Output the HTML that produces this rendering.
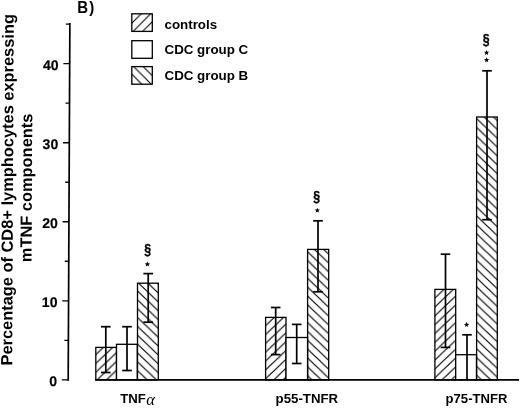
<!DOCTYPE html>
<html><head><meta charset="utf-8"><style>
html,body{margin:0;padding:0;background:#fff;}
svg{display:block;will-change:transform;}
text{font-family:"Liberation Sans",sans-serif;font-weight:bold;fill:#000;}
.tl{font-size:14px;stroke:#000;stroke-width:0.2px;}
.lg{font-size:13.35px;}
.xl{font-size:13.2px;}
.yl{font-size:16.2px;}
.bl{font-size:16.2px;}
.sec{font-size:14.5px;stroke:#000;stroke-width:0.35px;}
.al{font-family:"Liberation Serif",serif;font-style:italic;font-weight:normal;font-size:16.5px;}
</style></head><body>
<svg width="520" height="408" viewBox="0 0 520 408">
<defs>
<pattern id="p1" patternUnits="userSpaceOnUse" width="9.3158" height="8.8500" patternTransform="translate(95.7,354.7)"><path d="M-9.31578947368421,17.7 L18.63157894736842,-8.85 M-9.31578947368421,8.85 L9.31578947368421,-8.85 M0,17.7 L18.63157894736842,0" stroke="#000" stroke-width="1.1" fill="none"/></pattern>
<pattern id="p2" patternUnits="userSpaceOnUse" width="9.3158" height="8.8500" patternTransform="translate(137.5,291.0)"><path d="M-9.31578947368421,-8.85 L18.63157894736842,17.7 M0,-8.85 L18.63157894736842,8.85 M-9.31578947368421,0 L9.31578947368421,17.7" stroke="#000" stroke-width="1.1" fill="none"/></pattern>
<pattern id="p3" patternUnits="userSpaceOnUse" width="9.3158" height="8.8500" patternTransform="translate(265.5,370.0)"><path d="M-9.31578947368421,17.7 L18.63157894736842,-8.85 M-9.31578947368421,8.85 L9.31578947368421,-8.85 M0,17.7 L18.63157894736842,0" stroke="#000" stroke-width="1.1" fill="none"/></pattern>
<pattern id="p4" patternUnits="userSpaceOnUse" width="9.3158" height="8.8500" patternTransform="translate(307.6,251.8)"><path d="M-9.31578947368421,-8.85 L18.63157894736842,17.7 M0,-8.85 L18.63157894736842,8.85 M-9.31578947368421,0 L9.31578947368421,17.7" stroke="#000" stroke-width="1.1" fill="none"/></pattern>
<pattern id="p5" patternUnits="userSpaceOnUse" width="9.3158" height="8.8500" patternTransform="translate(434.9,298.1)"><path d="M-9.31578947368421,17.7 L18.63157894736842,-8.85 M-9.31578947368421,8.85 L9.31578947368421,-8.85 M0,17.7 L18.63157894736842,0" stroke="#000" stroke-width="1.1" fill="none"/></pattern>
<pattern id="p6" patternUnits="userSpaceOnUse" width="9.3158" height="8.8500" patternTransform="translate(476.8,118.8)"><path d="M-9.31578947368421,-8.85 L18.63157894736842,17.7 M0,-8.85 L18.63157894736842,8.85 M-9.31578947368421,0 L9.31578947368421,17.7" stroke="#000" stroke-width="1.1" fill="none"/></pattern>
<pattern id="p7" patternUnits="userSpaceOnUse" width="9.5000" height="9.5000" patternTransform="translate(133.0,31.5)"><path d="M-9.5,19.0 L19.0,-9.5 M-9.5,9.5 L9.5,-9.5 M0,19.0 L19.0,0" stroke="#000" stroke-width="1.1" fill="none"/></pattern>
<pattern id="p8" patternUnits="userSpaceOnUse" width="9.5000" height="9.5000" patternTransform="translate(131.9,74.3)"><path d="M-9.5,-9.5 L19.0,19.0 M0,-9.5 L19.0,9.5 M-9.5,0 L9.5,19.0" stroke="#000" stroke-width="1.1" fill="none"/></pattern>
</defs>
<rect width="520" height="408" fill="#fff"/>
<g transform="translate(1.786,0) skewX(-0.2693)"><line x1="68.2" y1="22.9" x2="68.2" y2="380.7" stroke="#000" stroke-width="1.7"/>
<line x1="61.9" y1="379.90" x2="68.2" y2="379.90" stroke="#000" stroke-width="1.4"/>
<text x="57.1" y="386.20" text-anchor="end" class="tl">0</text>
<line x1="64.2" y1="340.37" x2="68.2" y2="340.37" stroke="#000" stroke-width="1.4"/>
<line x1="61.9" y1="300.83" x2="68.2" y2="300.83" stroke="#000" stroke-width="1.4"/>
<text x="57.1" y="307.13" text-anchor="end" class="tl">10</text>
<line x1="64.2" y1="261.29" x2="68.2" y2="261.29" stroke="#000" stroke-width="1.4"/>
<line x1="61.9" y1="221.76" x2="68.2" y2="221.76" stroke="#000" stroke-width="1.4"/>
<text x="57.1" y="228.06" text-anchor="end" class="tl">20</text>
<line x1="64.2" y1="182.22" x2="68.2" y2="182.22" stroke="#000" stroke-width="1.4"/>
<line x1="61.9" y1="142.69" x2="68.2" y2="142.69" stroke="#000" stroke-width="1.4"/>
<text x="57.1" y="148.99" text-anchor="end" class="tl">30</text>
<line x1="64.2" y1="103.15" x2="68.2" y2="103.15" stroke="#000" stroke-width="1.4"/>
<line x1="61.9" y1="63.62" x2="68.2" y2="63.62" stroke="#000" stroke-width="1.4"/>
<text x="57.1" y="69.92" text-anchor="end" class="tl">40</text>
<line x1="64.2" y1="24.08" x2="68.2" y2="24.08" stroke="#000" stroke-width="1.4"/>
<text transform="translate(12.1,189.8) rotate(-90)" text-anchor="middle" class="yl" textLength="351.5" lengthAdjust="spacingAndGlyphs">Percentage of CD8+ lymphocytes expressing</text>
<text transform="translate(31.0,187.9) rotate(-90)" text-anchor="middle" class="yl" textLength="148.5" lengthAdjust="spacingAndGlyphs">mTNF components</text></g>
<rect x="95.8" y="347.4" width="20.70" height="32.50" fill="url(#p1)" stroke="#000" stroke-width="1.3"/>
<rect x="116.5" y="344.3" width="20.80" height="35.60" fill="#fff" stroke="#000" stroke-width="1.3"/>
<rect x="137.5" y="283.2" width="20.80" height="96.70" fill="url(#p2)" stroke="#000" stroke-width="1.3"/>
<rect x="265.6" y="317.4" width="20.40" height="62.50" fill="url(#p3)" stroke="#000" stroke-width="1.3"/>
<rect x="286.0" y="337.5" width="21.60" height="42.40" fill="#fff" stroke="#000" stroke-width="1.3"/>
<rect x="307.6" y="249.4" width="21.10" height="130.50" fill="url(#p4)" stroke="#000" stroke-width="1.3"/>
<rect x="434.9" y="289.4" width="20.80" height="90.50" fill="url(#p5)" stroke="#000" stroke-width="1.3"/>
<rect x="455.7" y="354.7" width="20.80" height="25.20" fill="#fff" stroke="#000" stroke-width="1.3"/>
<rect x="476.6" y="117.0" width="20.70" height="262.90" fill="url(#p6)" stroke="#000" stroke-width="1.3"/>
<line x1="105.8" y1="326.7" x2="105.8" y2="372.5" stroke="#000" stroke-width="1.7"/>
<line x1="101.00" y1="326.7" x2="110.60" y2="326.7" stroke="#000" stroke-width="1.7"/>
<line x1="101.00" y1="372.5" x2="110.60" y2="372.5" stroke="#000" stroke-width="1.7"/>
<line x1="127.0" y1="326.7" x2="127.0" y2="370.5" stroke="#000" stroke-width="1.7"/>
<line x1="122.20" y1="326.7" x2="131.80" y2="326.7" stroke="#000" stroke-width="1.7"/>
<line x1="122.20" y1="370.5" x2="131.80" y2="370.5" stroke="#000" stroke-width="1.7"/>
<line x1="148.2" y1="273.6" x2="148.2" y2="322.2" stroke="#000" stroke-width="1.7"/>
<line x1="143.40" y1="273.6" x2="153.00" y2="273.6" stroke="#000" stroke-width="1.7"/>
<line x1="143.40" y1="322.2" x2="153.00" y2="322.2" stroke="#000" stroke-width="1.7"/>
<line x1="275.7" y1="307.5" x2="275.7" y2="354.6" stroke="#000" stroke-width="1.7"/>
<line x1="270.90" y1="307.5" x2="280.50" y2="307.5" stroke="#000" stroke-width="1.7"/>
<line x1="270.90" y1="354.6" x2="280.50" y2="354.6" stroke="#000" stroke-width="1.7"/>
<line x1="296.7" y1="324.4" x2="296.7" y2="363.5" stroke="#000" stroke-width="1.7"/>
<line x1="291.90" y1="324.4" x2="301.50" y2="324.4" stroke="#000" stroke-width="1.7"/>
<line x1="291.90" y1="363.5" x2="301.50" y2="363.5" stroke="#000" stroke-width="1.7"/>
<line x1="318.0" y1="220.8" x2="318.0" y2="291.8" stroke="#000" stroke-width="1.7"/>
<line x1="313.20" y1="220.8" x2="322.80" y2="220.8" stroke="#000" stroke-width="1.7"/>
<line x1="313.20" y1="291.8" x2="322.80" y2="291.8" stroke="#000" stroke-width="1.7"/>
<line x1="445.5" y1="254.2" x2="445.5" y2="347.4" stroke="#000" stroke-width="1.7"/>
<line x1="440.70" y1="254.2" x2="450.30" y2="254.2" stroke="#000" stroke-width="1.7"/>
<line x1="440.70" y1="347.4" x2="450.30" y2="347.4" stroke="#000" stroke-width="1.7"/>
<line x1="467.0" y1="334.8" x2="467.0" y2="379.9" stroke="#000" stroke-width="1.7"/>
<line x1="462.20" y1="334.8" x2="471.80" y2="334.8" stroke="#000" stroke-width="1.7"/>
<line x1="487.0" y1="70.8" x2="487.0" y2="219.7" stroke="#000" stroke-width="1.7"/>
<line x1="482.20" y1="70.8" x2="491.80" y2="70.8" stroke="#000" stroke-width="1.7"/>
<line x1="482.20" y1="219.7" x2="491.80" y2="219.7" stroke="#000" stroke-width="1.7"/>
<line x1="95.0" y1="379.8" x2="519" y2="379.8" stroke="#000" stroke-width="1.8"/>
<polygon points="147.40,261.55 148.13,263.30 150.02,263.45 148.58,264.68 149.02,266.52 147.40,265.54 145.78,266.52 146.22,264.68 144.78,263.45 146.67,263.30" fill="#000"/>
<polygon points="317.30,207.65 318.03,209.40 319.92,209.55 318.48,210.78 318.92,212.62 317.30,211.64 315.68,212.62 316.12,210.78 314.68,209.55 316.57,209.40" fill="#000"/>
<polygon points="466.60,322.05 467.33,323.80 469.22,323.95 467.78,325.18 468.22,327.02 466.60,326.04 464.98,327.02 465.42,325.18 463.98,323.95 465.87,323.80" fill="#000"/>
<polygon points="486.60,49.95 487.33,51.70 489.22,51.85 487.78,53.08 488.22,54.92 486.60,53.94 484.98,54.92 485.42,53.08 483.98,51.85 485.87,51.70" fill="#000"/>
<polygon points="486.60,57.25 487.33,59.00 489.22,59.15 487.78,60.38 488.22,62.22 486.60,61.24 484.98,62.22 485.42,60.38 483.98,59.15 485.87,59.00" fill="#000"/>
<text transform="translate(147.7,253.9) scale(0.85,1)" text-anchor="middle" class="sec">§</text>
<text transform="translate(316.65,200.60000000000002) scale(0.85,1)" text-anchor="middle" class="sec">§</text>
<text transform="translate(486.2,44.099999999999994) scale(0.85,1)" text-anchor="middle" class="sec">§</text>
<rect x="131.8" y="13.8" width="20.5" height="17.6" fill="url(#p7)" stroke="#000" stroke-width="1.3"/>
<text x="164.5" y="28.7" class="lg">controls</text>
<rect x="131.8" y="40.7" width="20.5" height="17.6" fill="#fff" stroke="#000" stroke-width="1.3"/>
<text x="164.5" y="54.4" class="lg">CDC group C</text>
<rect x="131.8" y="66.6" width="20.5" height="17.6" fill="url(#p8)" stroke="#000" stroke-width="1.3"/>
<text x="164.5" y="80.0" class="lg">CDC group B</text>
<text transform="translate(77.3,12.8) scale(0.93,1)" class="bl">B<tspan dx="1.2">)</tspan></text>
<text x="120.2" y="403.3" class="xl">TNF<tspan class="al" dx="0.3" dy="1.5">α</tspan></text>
<text x="275.6" y="403.4" class="xl" textLength="62.6" lengthAdjust="spacingAndGlyphs">p55-TNFR</text>
<text x="445.6" y="403.4" class="xl" textLength="61.8" lengthAdjust="spacingAndGlyphs">p75-TNFR</text>
</svg>
</body></html>
